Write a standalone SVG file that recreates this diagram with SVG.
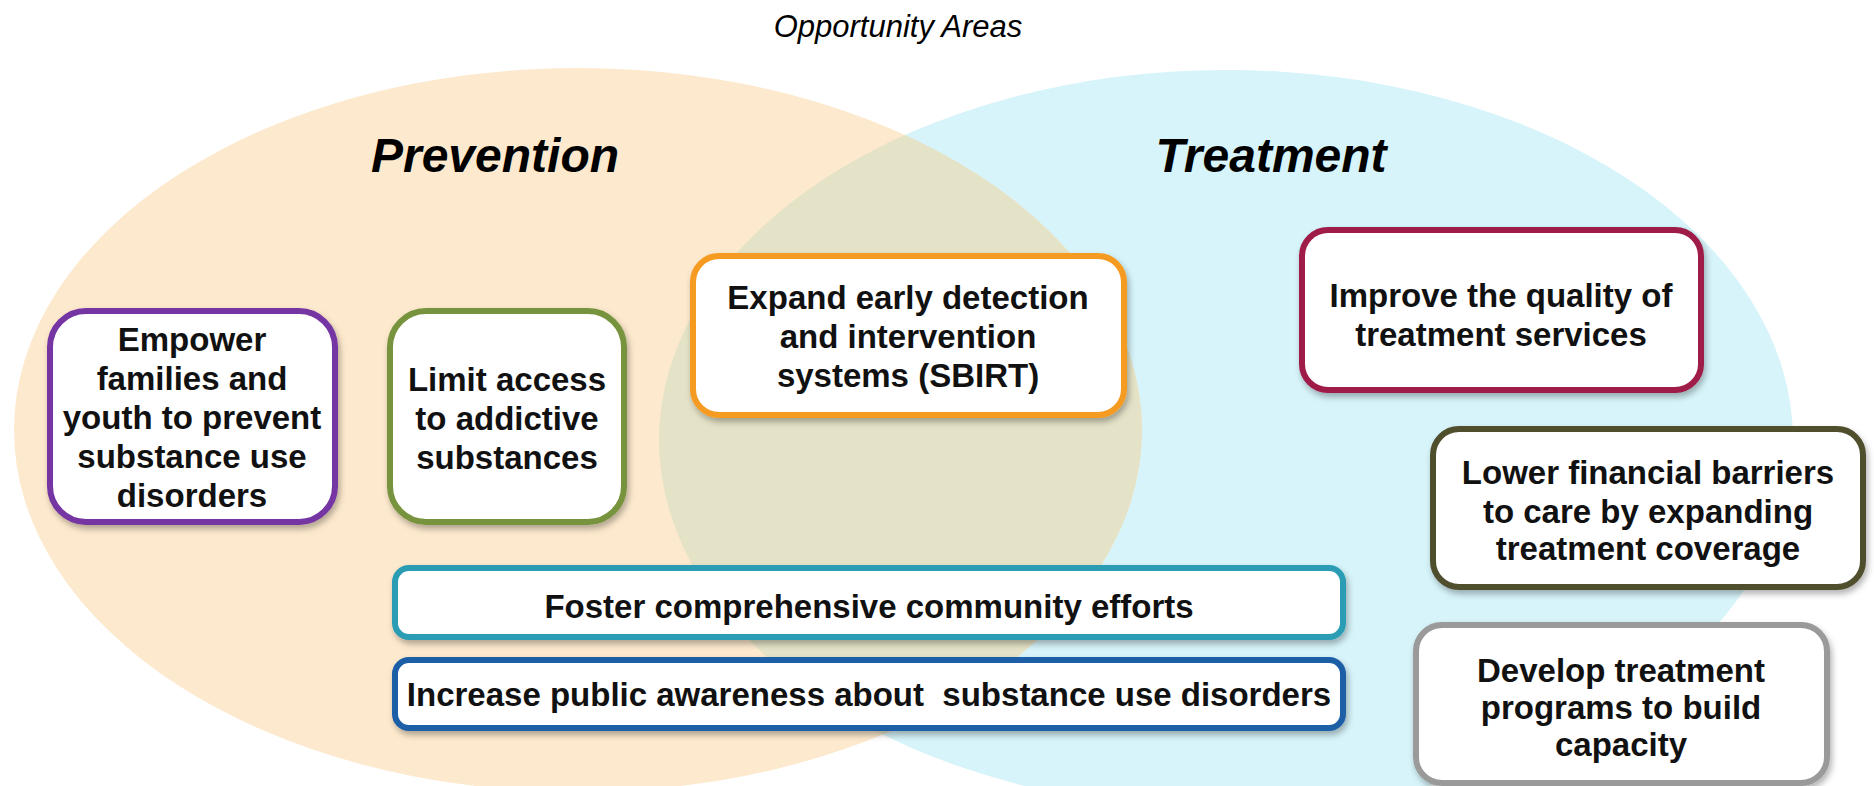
<svg xmlns="http://www.w3.org/2000/svg" width="1874" height="786" viewBox="0 0 1874 786">
<defs>
<style>
.t{font-family:"Liberation Sans",Arial,sans-serif;font-weight:bold;font-size:33px;fill:#111;text-anchor:middle}
.h{font-family:"Liberation Sans",Arial,sans-serif;font-weight:bold;font-style:italic;font-size:48px;fill:#000;text-anchor:middle}
.box{fill:#fff;stroke-width:6;filter:url(#sh)}
</style>
<filter id="sh" x="-10%" y="-10%" width="120%" height="130%">
<feDropShadow dx="2" dy="4" stdDeviation="3" flood-color="#000" flood-opacity="0.3"/>
</filter>
<clipPath id="clipO"><ellipse cx="578" cy="430" rx="564" ry="362"/></clipPath>
</defs>
<rect width="1874" height="786" fill="#fff"/>
<g id="venn">
<ellipse id="treatment-area" cx="1226" cy="440" rx="567" ry="370" fill="#D6F4FA"/>
<ellipse id="prevention-area" cx="578" cy="430" rx="564" ry="362" fill="#FDE9CD"/>
<ellipse cx="1226" cy="440" rx="567" ry="370" fill="#E4E2C7" clip-path="url(#clipO)"/>
</g>
<text x="898" y="37" style="font-family:'Liberation Sans',Arial,sans-serif;font-style:italic;font-size:31px;text-anchor:middle;fill:#000">Opportunity Areas</text>
<text class="h" x="495" y="172">Prevention</text>
<text class="h" x="1271" y="172">Treatment</text>
<g id="empower">
<rect class="box" x="50" y="311" width="285" height="211" rx="36" stroke="#7434A2"/>
<text class="t"><tspan x="192" y="351">Empower</tspan><tspan x="192" y="390">families and</tspan><tspan x="192" y="429">youth to prevent</tspan><tspan x="192" y="468">substance use</tspan><tspan x="192" y="507">disorders</tspan></text>
</g>
<g id="limit">
<rect class="box" x="390" y="311" width="234" height="211" rx="36" stroke="#77933C"/>
<text class="t"><tspan x="507" y="391">Limit access</tspan><tspan x="507" y="430">to addictive</tspan><tspan x="507" y="469">substances</tspan></text>
</g>
<g id="expand">
<rect class="box" x="693" y="256" width="431" height="159" rx="26" stroke="#F59B21"/>
<text class="t"><tspan x="908" y="309">Expand early detection</tspan><tspan x="908" y="348">and intervention</tspan><tspan x="908" y="387">systems (SBIRT)</tspan></text>
</g>
<g id="improve">
<rect class="box" x="1302" y="230" width="399" height="160" rx="26" stroke="#9E1A47"/>
<text class="t"><tspan x="1501" y="307">Improve the quality of</tspan><tspan x="1501" y="346">treatment services</tspan></text>
</g>
<g id="lower">
<rect class="box" x="1433" y="429" width="430" height="158" rx="26" stroke="#504F2F"/>
<text class="t"><tspan x="1648" y="484">Lower financial barriers</tspan><tspan x="1648" y="523">to care by expanding</tspan><tspan x="1648" y="560">treatment coverage</tspan></text>
</g>
<g id="develop">
<rect class="box" x="1416" y="625" width="411" height="158" rx="26" stroke="#9A9A9A"/>
<text class="t"><tspan x="1621" y="682">Develop treatment</tspan><tspan x="1621" y="719">programs to build</tspan><tspan x="1621" y="756">capacity</tspan></text>
</g>
<g id="foster">
<rect class="box" x="395" y="568" width="948" height="69" rx="14" stroke="#2B9CB4"/>
<text class="t" x="869" y="618">Foster comprehensive community efforts</text>
</g>
<g id="increase">
<rect class="box" x="395" y="660" width="948" height="68" rx="14" stroke="#1F5EA6"/>
<text class="t" x="869" y="706" xml:space="preserve">Increase public awareness about  substance use disorders</text>
</g>
</svg>
